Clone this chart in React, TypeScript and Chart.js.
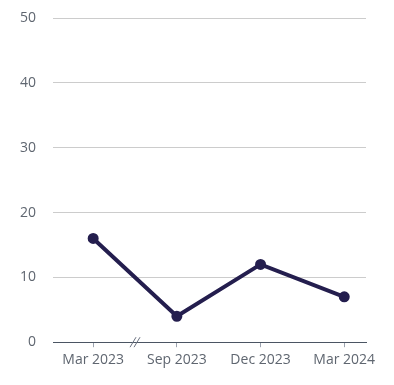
import React, { useEffect, useRef } from "react";
import { Chart, registerables } from "chart.js";
Chart.register(...registerables);

const categories = ["Mar 2023", "Sep 2023", "Dec 2023", "Mar 2024"];
const values = [16, 4, 12, 7];
const yTicks = [0, 10, 20, 30, 40, 50];

const breakPlugin = {
  id: "axisBreak",
  afterDraw(chart: any) {
    const x = chart.scales.x;
    const y = chart.scales.y;
    const cx = x.getPixelForValue(0.5);
    const cy = y.getPixelForValue(0);
    const ctx = chart.ctx;
    ctx.save();
    ctx.strokeStyle = "#6b7280";
    ctx.lineWidth = 1;
    for (const dx of [-2, 2]) {
      ctx.beginPath();
      ctx.moveTo(cx + dx - 3, cy + 5);
      ctx.lineTo(cx + dx + 3, cy - 5);
      ctx.stroke();
    }
    ctx.restore();
  },
};

export default function App() {
  const ref = useRef<HTMLCanvasElement>(null);
  useEffect(() => {
    const chart = new Chart(ref.current!, {
      type: "line",
      data: {
        datasets: [
          {
            data: values.map((v, i) => ({ x: i, y: v })),
            borderColor: "#241e4e",
            backgroundColor: "#241e4e",
            borderWidth: 4,
            pointRadius: 3.5,
            pointHoverRadius: 3.5,
            tension: 0,
          },
        ],
      },
      options: {
        animation: false,
        responsive: false,
        devicePixelRatio: 1,
        layout: { padding: { left: 0, right: 28, top: 18, bottom: 13 } },
        plugins: { legend: { display: false }, tooltip: { enabled: false } },
        scales: {
          x: {
            type: "linear",
            min: -0.48,
            max: 3.26,
            afterBuildTicks: (s: any) => {
              s.ticks = categories.map((_, i) => ({ value: i }));
            },
            ticks: {
              callback: (v: any) => categories[v] ?? "",
              color: "#5f6670",
              font: { family: "Open Sans", size: 14 },
              padding: 4,
              maxRotation: 0,
              autoSkip: false,
            },
            grid: { drawOnChartArea: false, drawTicks: true, tickLength: 5, color: "#9ca3af" },
            border: { display: true, color: "#4b5563", width: 1 },
          },
          y: {
            min: 0,
            max: 50,
            afterBuildTicks: (s: any) => {
              s.ticks = yTicks.map((v) => ({ value: v }));
            },
            afterFit: (s: any) => {
              s.width = 53;
              s.paddingTop = 0;
              s.paddingBottom = 0;
            },
            ticks: {
              color: "#5f6670",
              font: { family: "Open Sans", size: 14 },
              padding: 17,
            },
            grid: { drawTicks: false, color: "#cccccc", lineWidth: 1 },
            border: { display: false },
          },
        },
      },
      plugins: [breakPlugin],
    });
    return () => chart.destroy();
  }, []);
  return (
    <div style={{ position: "fixed", left: 0, top: 0, width: 394, height: 385, background: "#fff" }}>
      <canvas ref={ref} width={394} height={385} style={{ display: "block" }} />
    </div>
  );
}
